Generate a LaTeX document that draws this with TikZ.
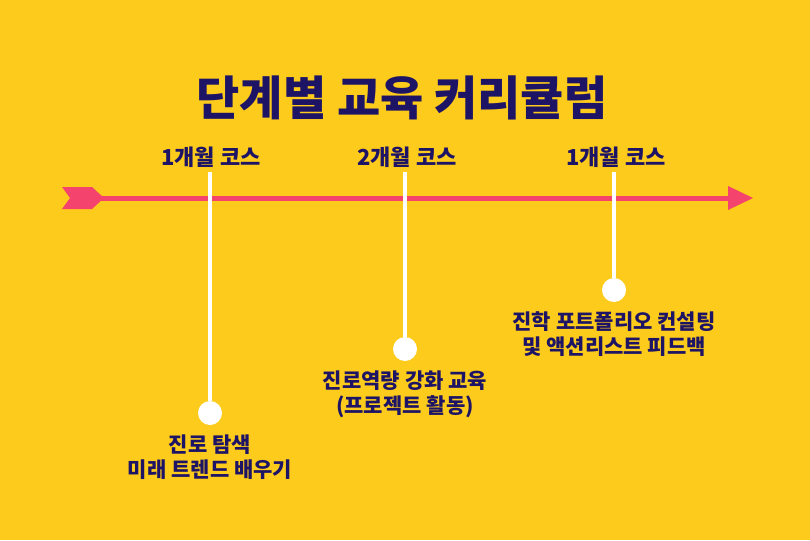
\documentclass[tikz,border=0pt]{standalone}
\usepackage{fontspec}
\setmainfont{Noto Sans CJK KR}
\usepackage{xcolor}
\usepackage{tikz}
\usetikzlibrary{positioning}
\definecolor{bgyellow}{HTML}{FDCB1B}
\definecolor{navy}{HTML}{1E1466}
\definecolor{arrowpink}{HTML}{F4436C}

\begin{document}
\begin{tikzpicture}[x=1pt, y=-1pt,
                    every node/.style={align=center, text=navy, font=\bfseries},
                    title/.style={font=\bfseries\fontsize{47}{52}\selectfont},
                    course/.style={font=\bfseries\fontsize{22}{26}\selectfont},
                    desc/.style={font=\bfseries\fontsize{21}{25}\selectfont},
                    dot/.style={circle, fill=white, minimum size=24pt, inner sep=0pt},
                    stem/.style={white, line width=4pt}
                ]

                    % Background
                    \fill[bgyellow] (0,0) rectangle (810,540);
                    \useasboundingbox (0,0) rectangle (810,540);

                    % Title
                    \node (title) [title] at (402,98) {단계별 교육 커리큘럼};

                    % Timeline arrow
                    \coordinate (start) at (95,198);
                    \coordinate (end) at (735,198);
                    \draw[arrowpink, line width=5pt] (start) -- (end);
                    \fill[arrowpink] (728,186) -- (753,198) -- (728,210) -- cycle;
                    \fill[arrowpink] (62,187) -- (92,187) -- (104,198) -- (92,209) -- (62,209) -- (70,198) -- cycle;

                    % Stems and dots
                    \coordinate (top1) at (210,172);
                    \coordinate (top2) at (405,172);
                    \coordinate (top3) at (614,172);
                    \node (dot1) [dot] at (210,413) {};
                    \node (dot2) [dot] at (405,349) {};
                    \node (dot3) [dot] at (614,290) {};
                    \draw[stem] (top1) -- (dot1);
                    \draw[stem] (top2) -- (dot2);
                    \draw[stem] (top3) -- (dot3);

                    % Course labels
                    \node (c1) [course] at (211,157) {1개월 코스};
                    \node (c2) [course] at (407,157) {2개월 코스};
                    \node (c3) [course] at (616,157) {1개월 코스};

                    % Descriptions
                    \node (d1) [desc, below=6pt of dot1] {진로 탐색\\미래 트렌드 배우기};
                    \node (d2) [desc, below=6pt of dot2] {진로역량 강화 교육\\(프로젝트 활동)};
                    \node (d3) [desc, below=6pt of dot3] {진학 포트폴리오 컨설팅\\및 액션리스트 피드백};

                \end{tikzpicture}
\end{document}
